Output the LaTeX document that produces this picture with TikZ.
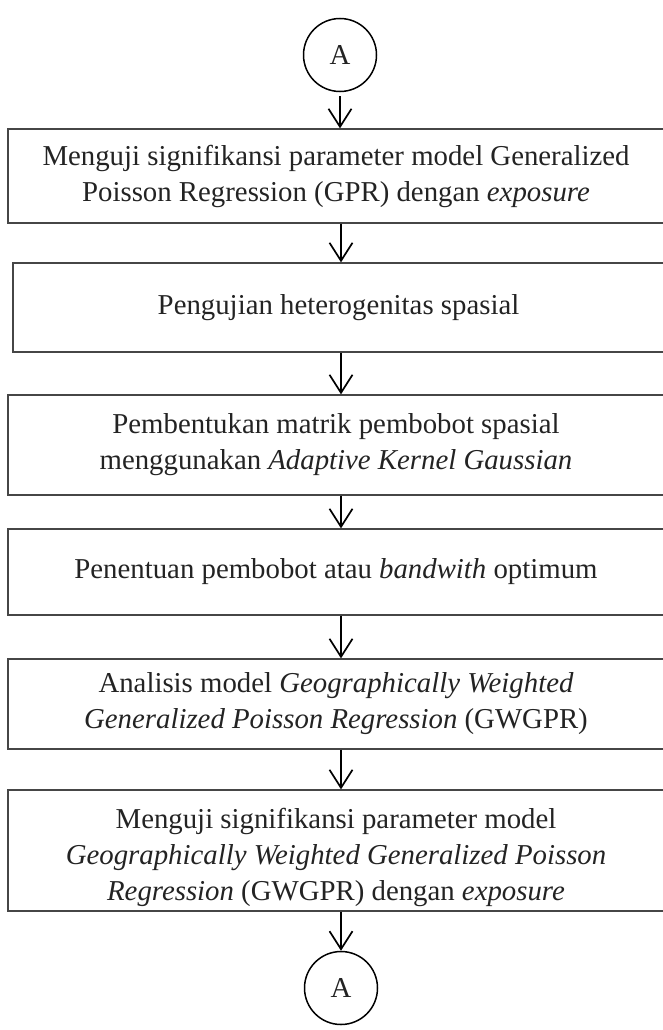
\documentclass[tikz,border=0pt]{standalone}
\usepackage{fontspec}
\setmainfont{Liberation Serif}
\usetikzlibrary{arrows.meta,positioning}
\definecolor{mytext}{RGB}{35,35,35}
\definecolor{myline}{RGB}{70,70,70}

\begin{document}
\begin{tikzpicture}[x=1pt,y=-1pt,
    font=\fontsize{28.8}{36}\selectfont,
    langkah/.style={draw=myline, line width=1.3pt, align=center,
                    text=mytext, inner sep=0pt},
    konektor/.style={draw, circle, line width=1.5pt, minimum size=73pt,
                     inner sep=0pt, text=mytext},
    panah/.style={-{Straight Barb[length=18pt,width=23pt]}, line width=1.7pt}]
  \useasboundingbox (0,0) rectangle (662,1030);

  % Connector on top
  \node[konektor] (Aatas) at (340,55) {A};

  % Steps
  \node[langkah, minimum width=656pt, minimum height=94pt] (ujiGPR) at (336,176)
    {Menguji signifikansi parameter model Generalized\\
     Poisson Regression (GPR) dengan \textit{exposure}};
  \node[langkah, minimum width=651pt, minimum height=89pt] (hetero) at (338.5,307.5)
    {Pengujian heterogenitas spasial};
  \node[langkah, minimum width=656pt, minimum height=100pt] (matrik) at (336,445)
    {Pembentukan matrik pembobot spasial\\
     menggunakan \textit{Adaptive Kernel Gaussian}};
  \node[langkah, minimum width=656pt, minimum height=86pt] (bandw) at (336,572)
    {Penentuan pembobot atau \textit{bandwith} optimum};
  \node[langkah, minimum width=656pt, minimum height=90pt] (gwgpr) at (336,704)
    {Analisis model \textit{Geographically Weighted}\\
     \textit{Generalized Poisson Regression} (GWGPR)};
  \node[langkah, minimum width=656pt, minimum height=121pt] (ujiGWGPR) at (336,850.5)
    {\rule{0pt}{34pt}Menguji signifikansi parameter model\\
     \textit{Geographically Weighted Generalized Poisson}\\
     \textit{Regression} (GWGPR) dengan \textit{exposure}};

  % Connector at bottom
  \node[konektor] (Abawah) at (341,988) {A};

  % Arrows
  \draw[panah, shorten <=4pt] (Aatas.south) -- (ujiGPR.north -| Aatas.south);
  \draw[panah] (ujiGPR.south -| Abawah) -- (hetero.north -| Abawah);
  \draw[panah] (hetero.south -| Abawah) -- (matrik.north -| Abawah);
  \draw[panah] (matrik.south -| Abawah) -- (bandw.north -| Abawah);
  \draw[panah] (bandw.south -| Abawah) -- (gwgpr.north -| Abawah);
  \draw[panah] (gwgpr.south -| Abawah) -- (ujiGWGPR.north -| Abawah);
  \draw[panah] (ujiGWGPR.south -| Abawah) -- (Abawah.north);
\end{tikzpicture}
\end{document}
